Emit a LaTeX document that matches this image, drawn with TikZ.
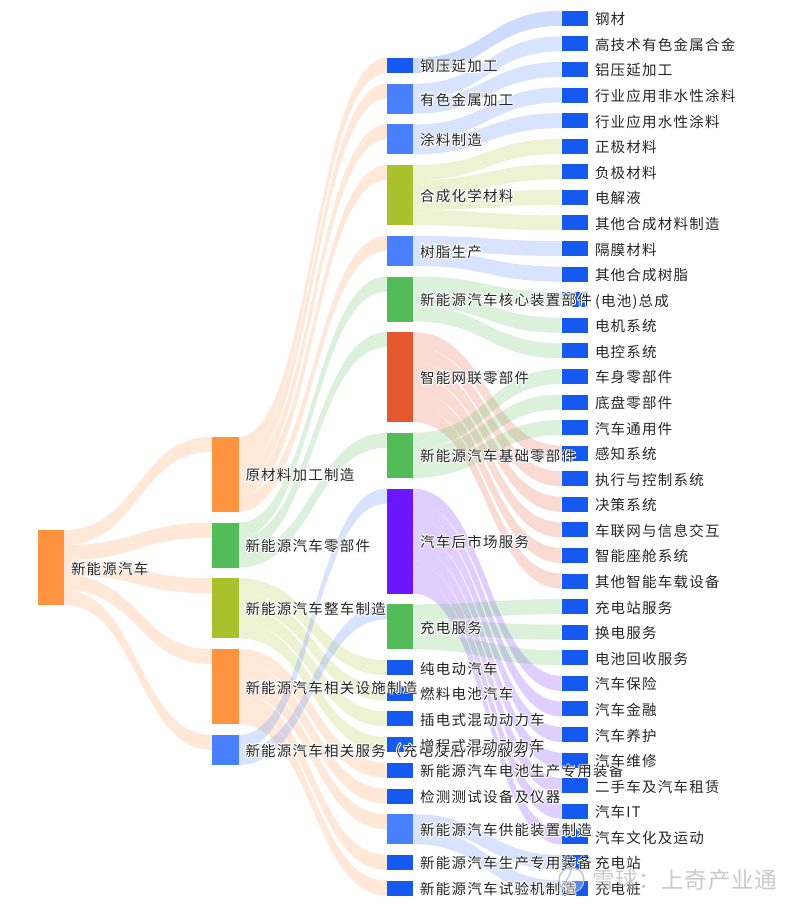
\documentclass[tikz,border=0pt]{standalone}
\usepackage{fontspec}
\usepackage[copies]{contour}
\usetikzlibrary{positioning,calc,backgrounds}
\setmainfont[LetterSpace=8.5]{Noto Sans CJK SC}
\newfontfamily\markfont[LetterSpace=3]{Noto Sans CJK SC}
\contourlength{0.8pt}
\contournumber{16}
\definecolor{orangebox}{HTML}{FF9340}
\definecolor{greenbox}{HTML}{53BB57}
\definecolor{limebox}{HTML}{A9C12C}
\definecolor{bluebox}{HTML}{4880FF}
\definecolor{deepbox}{HTML}{1559F0}
\definecolor{redbox}{HTML}{E5572E}
\definecolor{purplebox}{HTML}{6A16FF}
\tikzstyle{box}=[minimum width=26.4pt,minimum height=15pt,inner sep=0pt,outer sep=0pt]
\tikzstyle{leaf}=[box,fill=deepbox]
\tikzstyle{tag}=[inner sep=0pt,outer sep=0pt,text height=13pt,text depth=0pt,font=\fontsize{14.5}{14.5}\selectfont,text=black!85]
\tikzstyle{flow}=[fill opacity=0.21]
% source, slot in the source, target, colour
\newcommand{\ribbon}[4]{
	\fill [flow,fill=#4] let \p1=(#1.north east), \p2=(#3.north west), \n1={(\x1+\x2)/2}, \n2={\y1-#2*15pt} in
		(\x1,\n2) .. controls (\n1,\n2) and (\n1,\y2) .. (\x2,\y2) -- (\x2,\y2-15pt)
		.. controls (\n1,\y2-15pt) and (\n1,\n2-15pt) .. (\x1,\n2-15pt) -- cycle;
}
\newcommand{\tagnode}[2]{\node [tag,right=6.9pt of #1] (#1t) {\contour{white}{#2}};}
\begin{document}
\begin{tikzpicture}[x=1pt,y=-1pt]
\useasboundingbox (0,0) rectangle (800,904);
% first column
\node [box,anchor=north west,fill=orangebox,minimum height=75pt] (root) at (37.7,530) {};
% second column
\node [box,anchor=north west,fill=orangebox,minimum height=75pt] (raw) at (212.2,436.7) {};
\node [box,fill=greenbox,minimum height=45pt,below=10.83pt of raw] (part) {};
\node [box,fill=limebox,minimum height=60pt,below=10.83pt of part] (whole) {};
\node [box,fill=orangebox,minimum height=75pt,below=10.83pt of whole] (facility) {};
\node [box,fill=bluebox,minimum height=30pt,below=10.83pt of facility] (service) {};
% third column
\node [leaf,anchor=north west] (steel) at (386.8,58) {};
\node [box,fill=bluebox,minimum height=30pt,below=10.7pt of steel] (metal) {};
\node [box,fill=bluebox,minimum height=30pt,below=10.7pt of metal] (coat) {};
\node [box,fill=limebox,minimum height=60pt,below=10.7pt of coat] (chem) {};
\node [box,fill=bluebox,minimum height=30pt,below=10.7pt of chem] (resin) {};
\node [box,fill=greenbox,minimum height=45pt,below=10.7pt of resin] (core) {};
\node [box,fill=redbox,minimum height=90pt,below=10.7pt of core] (smart) {};
\node [box,fill=greenbox,minimum height=45pt,below=10.7pt of smart] (basic) {};
\node [box,fill=purplebox,minimum height=105pt,below=10.7pt of basic] (after) {};
\node [box,fill=greenbox,minimum height=45pt,below=10.7pt of after] (charge) {};
\node [leaf,below=10.7pt of charge] (bev) {};
\node [leaf,below=10.7pt of bev] (fcev) {};
\node [leaf,below=10.7pt of fcev] (phev) {};
\node [leaf,below=10.7pt of phev] (erev) {};
\node [leaf,below=10.7pt of erev] (battery) {};
\node [leaf,below=10.7pt of battery] (testing) {};
\node [box,fill=bluebox,minimum height=30pt,below=10.7pt of testing] (supply) {};
\node [leaf,below=10.7pt of supply] (making) {};
\node [leaf,below=10.7pt of making] (rig) {};
% fourth column
\node [leaf,anchor=north west] (l1) at (561.7,10.8) {};
\node [leaf,below=10.58pt of l1] (l2) {};
\node [leaf,below=10.58pt of l2] (l3) {};
\node [leaf,below=10.58pt of l3] (l4) {};
\node [leaf,below=10.58pt of l4] (l5) {};
\node [leaf,below=10.58pt of l5] (l6) {};
\node [leaf,below=10.58pt of l6] (l7) {};
\node [leaf,below=10.58pt of l7] (l8) {};
\node [leaf,below=10.58pt of l8] (l9) {};
\node [leaf,below=10.58pt of l9] (l10) {};
\node [leaf,below=10.58pt of l10] (l11) {};
\node [leaf,below=10.58pt of l11] (l12) {};
\node [leaf,below=10.58pt of l12] (l13) {};
\node [leaf,below=10.58pt of l13] (l14) {};
\node [leaf,below=10.58pt of l14] (l15) {};
\node [leaf,below=10.58pt of l15] (l16) {};
\node [leaf,below=10.58pt of l16] (l17) {};
\node [leaf,below=10.58pt of l17] (l18) {};
\node [leaf,below=10.58pt of l18] (l19) {};
\node [leaf,below=10.58pt of l19] (l20) {};
\node [leaf,below=10.58pt of l20] (l21) {};
\node [leaf,below=10.58pt of l21] (l22) {};
\node [leaf,below=10.58pt of l22] (l23) {};
\node [leaf,below=10.58pt of l23] (l24) {};
\node [leaf,below=10.58pt of l24] (l25) {};
\node [leaf,below=10.58pt of l25] (l26) {};
\node [leaf,below=10.58pt of l26] (l27) {};
\node [leaf,below=10.58pt of l27] (l28) {};
\node [leaf,below=10.58pt of l28] (l29) {};
\node [leaf,below=10.58pt of l29] (l30) {};
\node [leaf,below=10.58pt of l30] (l31) {};
\node [leaf,below=10.58pt of l31] (l32) {};
\node [leaf,below=10.58pt of l32] (l33) {};
\node [leaf,below=10.58pt of l33] (l34) {};
\node [leaf,below=10.58pt of l34] (l35) {};
% ribbons
\begin{scope}[on background layer]
\ribbon{root}{0}{raw}{orangebox}
\ribbon{root}{1}{part}{orangebox}
\ribbon{root}{2}{whole}{orangebox}
\ribbon{root}{3}{facility}{orangebox}
\ribbon{root}{4}{service}{orangebox}
\ribbon{raw}{0}{steel}{orangebox}
\ribbon{raw}{1}{metal}{orangebox}
\ribbon{raw}{2}{coat}{orangebox}
\ribbon{raw}{3}{chem}{orangebox}
\ribbon{raw}{4}{resin}{orangebox}
\ribbon{part}{0}{core}{greenbox}
\ribbon{part}{1}{smart}{greenbox}
\ribbon{part}{2}{basic}{greenbox}
\ribbon{whole}{0}{bev}{limebox}
\ribbon{whole}{1}{fcev}{limebox}
\ribbon{whole}{2}{phev}{limebox}
\ribbon{whole}{3}{erev}{limebox}
\ribbon{facility}{0}{battery}{orangebox}
\ribbon{facility}{1}{testing}{orangebox}
\ribbon{facility}{2}{supply}{orangebox}
\ribbon{facility}{3}{making}{orangebox}
\ribbon{facility}{4}{rig}{orangebox}
\ribbon{service}{0}{after}{bluebox}
\ribbon{service}{1}{charge}{bluebox}
\ribbon{steel}{0}{l1}{deepbox}
\ribbon{metal}{0}{l2}{bluebox}
\ribbon{metal}{1}{l3}{bluebox}
\ribbon{coat}{0}{l4}{bluebox}
\ribbon{coat}{1}{l5}{bluebox}
\ribbon{chem}{0}{l6}{limebox}
\ribbon{chem}{1}{l7}{limebox}
\ribbon{chem}{2}{l8}{limebox}
\ribbon{chem}{3}{l9}{limebox}
\ribbon{resin}{0}{l10}{bluebox}
\ribbon{resin}{1}{l11}{bluebox}
\ribbon{core}{0}{l12}{greenbox}
\ribbon{core}{1}{l13}{greenbox}
\ribbon{core}{2}{l14}{greenbox}
\ribbon{smart}{0}{l18}{redbox}
\ribbon{smart}{1}{l19}{redbox}
\ribbon{smart}{2}{l20}{redbox}
\ribbon{smart}{3}{l21}{redbox}
\ribbon{smart}{4}{l22}{redbox}
\ribbon{smart}{5}{l23}{redbox}
\ribbon{basic}{0}{l15}{greenbox}
\ribbon{basic}{1}{l16}{greenbox}
\ribbon{basic}{2}{l17}{greenbox}
\ribbon{after}{0}{l27}{purplebox}
\ribbon{after}{1}{l28}{purplebox}
\ribbon{after}{2}{l29}{purplebox}
\ribbon{after}{3}{l30}{purplebox}
\ribbon{after}{4}{l31}{purplebox}
\ribbon{after}{5}{l32}{purplebox}
\ribbon{after}{6}{l33}{purplebox}
\ribbon{charge}{0}{l24}{greenbox}
\ribbon{charge}{1}{l25}{greenbox}
\ribbon{charge}{2}{l26}{greenbox}
\ribbon{supply}{0}{l34}{bluebox}
\ribbon{supply}{1}{l35}{bluebox}
\end{scope}
% labels
\tagnode{root}{新能源汽车}
\tagnode{raw}{原材料加工制造}
\tagnode{part}{新能源汽车零部件}
\tagnode{whole}{新能源汽车整车制造}
\tagnode{facility}{新能源汽车相关设施制造}
\tagnode{service}{新能源汽车相关服务（充电及后市场服务）}
\tagnode{steel}{钢压延加工}
\tagnode{metal}{有色金属加工}
\tagnode{coat}{涂料制造}
\tagnode{chem}{合成化学材料}
\tagnode{resin}{树脂生产}
\tagnode{core}{新能源汽车核心装置部件}
\tagnode{smart}{智能网联零部件}
\tagnode{basic}{新能源汽车基础零部件}
\tagnode{after}{汽车后市场服务}
\tagnode{charge}{充电服务}
\tagnode{bev}{纯电动汽车}
\tagnode{fcev}{燃料电池汽车}
\tagnode{phev}{插电式混动动力车}
\tagnode{erev}{增程式混动动力车}
\tagnode{battery}{新能源汽车电池生产专用装备}
\tagnode{testing}{检测测试设备及仪器}
\tagnode{supply}{新能源汽车供能装置制造}
\tagnode{making}{新能源汽车生产专用装备}
\tagnode{rig}{新能源汽车试验机制造}
\tagnode{l1}{钢材}
\tagnode{l2}{高技术有色金属合金}
\tagnode{l3}{铝压延加工}
\tagnode{l4}{行业应用非水性涂料}
\tagnode{l5}{行业应用水性涂料}
\tagnode{l6}{正极材料}
\tagnode{l7}{负极材料}
\tagnode{l8}{电解液}
\tagnode{l9}{其他合成材料制造}
\tagnode{l10}{隔膜材料}
\tagnode{l11}{其他合成树脂}
\tagnode{l12}{(电池)总成}
\tagnode{l13}{电机系统}
\tagnode{l14}{电控系统}
\tagnode{l15}{车身零部件}
\tagnode{l16}{底盘零部件}
\tagnode{l17}{汽车通用件}
\tagnode{l18}{感知系统}
\tagnode{l19}{执行与控制系统}
\tagnode{l20}{决策系统}
\tagnode{l21}{车联网与信息交互}
\tagnode{l22}{智能座舱系统}
\tagnode{l23}{其他智能车载设备}
\tagnode{l24}{充电站服务}
\tagnode{l25}{换电服务}
\tagnode{l26}{电池回收服务}
\tagnode{l27}{汽车保险}
\tagnode{l28}{汽车金融}
\tagnode{l29}{汽车养护}
\tagnode{l30}{汽车维修}
\tagnode{l31}{二手车及汽车租赁}
\tagnode{l32}{汽车IT}
\tagnode{l33}{汽车文化及运动}
\tagnode{l34}{充电站}
\tagnode{l35}{充电桩}
% watermark
\node [circle,draw=black!25,line width=1.2pt,minimum size=25pt,inner sep=0pt,fill=white,fill opacity=0.3] (logo) at (571.5,880) {};
\draw [black!25,line width=1.2pt] (logo.north) .. controls (logo.center) and (logo.west) .. (logo.south);
\node [anchor=west,inner sep=0pt,text opacity=0.75,text=black!28,font=\fontsize{22.5}{22.5}\markfont] (mark) at (592,880) {雪球：上奇产业通};
\end{tikzpicture}
\end{document}
